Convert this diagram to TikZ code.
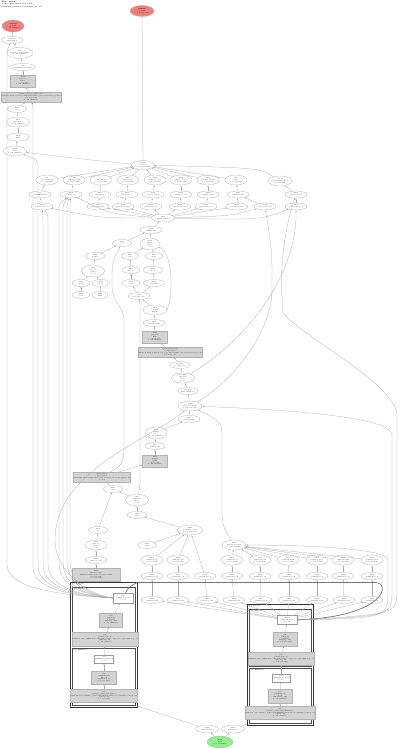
\documentclass[tikz,border=0pt]{standalone}
\usepackage{tikz}
\usetikzlibrary{arrows.meta,shapes.geometric}
\definecolor{hot}{HTML}{F08080}
\definecolor{leaf}{HTML}{90EE90}
\definecolor{frame}{HTML}{D3D3D3}
\newcommand{\nodefont}{\fontsize{1.5}{1.8}\selectfont}

\begin{document}
\begin{tikzpicture}[x=1pt,y=-1pt,>=Latex,
    fn/.style={ellipse,draw=black!35,line width=0.25pt,inner sep=0pt,
               minimum width=22,minimum height=7,font=\nodefont,align=center},
    fnt/.style={fn,minimum height=10},
    blk/.style={rectangle,draw=black!30,fill=frame,line width=0.25pt,inner sep=0.4pt,
                minimum width=25,minimum height=12,font=\nodefont,align=center},
    wide/.style={blk,minimum width=54,minimum height=10},
    plain/.style={rectangle,draw=black!40,fill=white,line width=0.25pt,inner sep=0.4pt,
                  minimum width=20,minimum height=8,font=\nodefont,align=center},
    root/.style={fn,fill=hot,minimum width=24,minimum height=12},
    done/.style={fn,fill=leaf,minimum width=26,minimum height=12},
    call/.style={draw=black!35,line width=0.25pt,-{Latex[length=1.6pt,width=1.3pt]}},
    heavy/.style={call,draw=black!55,line width=0.7pt},
    grp/.style={draw=black!80,line width=0.8pt},
    sub/.style={draw=black!70,line width=0.5pt},
    grplabel/.style={anchor=north west,font=\nodefont,inner sep=0.3pt,align=left}]
\useasboundingbox (0,0) rectangle (400,749);

\node[anchor=north west,align=left,inner sep=0pt,font=\fontsize{2}{2.4}\selectfont] (head) at (1.5,1)
    {\textbf{File: relay}\\Type: goroutine (34 total)\\Showing nodes accounting for 34};

% goroutines on top
\node[root,minimum width=22] (r1) at (13,26) {\textbf{runtime}\\gopark\\0 of 9 (26.47\%)};
\node[root,minimum height=11] (r2) at (142,11) {\textbf{runtime}\\gopark\\0 of 25 (73.53\%)};

% left chain
\node[fn] (a1) at (12,40) {runtime\\semacquire1};
\node[fnt,minimum width=23,minimum height=11] (a2) at (20,53) {sync\\runtime\_Semacquire\\0 of 9 (26.47\%)};
\node[fn,minimum width=23] (a3) at (23,67) {sync\\(*WaitGroup) Wait};
\node[blk] (a4) at (23,81) {main\\(*Pool)\\Close\\pool.go:88\\0 of 9 (26.47\%)};
\node[wide] (a5) at (31,97) {main (*Server) Shutdown\\0x4a3f2e main.(*Server).Shutdown+0x8e /src/relay/server.go:142\\server.go:142\\0 of 9 (26.47\%)};
\node[fn,minimum width=19] (a6) at (17,109) {main\\run};
\node[fnt,minimum width=23] (a7) at (18,122) {main\\main.func1\\0 of 9 (26.47\%)};
\node[fn,minimum height=8] (a8) at (18,137) {main\\main};
\node[fnt,minimum width=23] (a9) at (15,151) {runtime\\main\\0 of 9 (26.47\%)};

\node[fnt,minimum width=23,minimum height=9] (c) at (143,165) {runtime\\selectgo\\0 of 25 (73.53\%)};

% first row
\node[fnt] (b1) at (47,180) {net\\(*conn) Read\\0 of 3 (8.82\%)};
\node[fnt] (b2) at (74,180) {bufio\\(*Reader) fill\\0 of 3 (8.82\%)};
\node[fnt] (b3) at (101,180) {io\\ReadFull\\0 of 2 (5.88\%)};
\node[fnt] (b4) at (128,180) {main\\(*Peer) recv\\0 of 2 (5.88\%)};
\node[fnt] (b5) at (155,180) {main\\(*Peer) send\\0 of 2 (5.88\%)};
\node[fnt] (b6) at (181,180) {main\\(*Queue) pop\\0 of 2 (5.88\%)};
\node[fnt] (b7) at (208,180) {main\\(*Queue) push\\0 of 2 (5.88\%)};
\node[fnt] (b8) at (236,180) {time\\Sleep\\0 of 1 (2.94\%)};
\node[fnt] (b9) at (280,181) {context\\(*cancelCtx) Done\\0 of 1 (2.94\%)};

% second row
\node[fn] (d1) at (40,194.5) {net\\(*netFD) Read};
\node[fn] (d2) at (71,194.5) {main\\readLoop};
\node[fn] (d3) at (100,194.5) {main\\writeLoop};
\node[fn] (d4) at (127,194.5) {main\\(*Peer) loop};
\node[fn] (d5) at (153,194.5) {main\\(*Peer) ping};
\node[fn] (d6) at (181,194.5) {main\\(*Queue) run};
\node[fn] (d7) at (208,194.5) {main\\(*Queue) wait};
\node[fn] (d8) at (238,194.5) {main\\(*Timer) run};
\node[fn] (d9) at (296,194.5) {main\\(*Ctx) watch};

% third row
\node[fn] (e1) at (42,206.5) {main\\(*Session) read};
\node[fn] (e2) at (98,206.5) {main\\(*Session) write};
\node[fn] (e3) at (123,206.5) {main\\(*Session) ping};
\node[fn] (e4) at (151,206.5) {main\\(*Session) recv};
\node[fn] (e5) at (180,206.5) {main\\(*Session) send};
\node[fn] (e6) at (206,206.5) {main\\(*Session) poll};
\node[fn] (e7) at (237,206.5) {main\\(*Session) tick};
\node[fn] (e8) at (265,206.5) {main\\(*Session) idle};
\node[fn] (e9) at (296,206.5) {main\\(*Session) close};

\node[fn,minimum width=23,minimum height=8] (hub) at (163,218) {main\\(*Hub) dispatch};
\node[fn] (hrun) at (151,230) {main\\(*Hub) run};
\node[fn,minimum width=19] (f1) at (122,243) {main\\loop};
\node[fnt,minimum width=20,minimum height=12] (f2) at (150,244) {main\\(*Hub)\\Start\\0 of 6};

% worker subtree
\node[fn,minimum width=20] (g1) at (95,256) {main\\worker};
\node[fnt,minimum width=23,minimum height=12] (g2) at (93,271) {main\\(*Pool)\\spawn\\0 of 4};
\node[fn,minimum width=18] (g3) at (81,283) {main\\fetch};
\node[fn,minimum width=18] (g4) at (101,283) {main\\store};
\node[fn,minimum width=18] (g5) at (81,295) {main\\retry};
\node[fn,minimum width=16] (g6) at (100,295) {main\\flush};

% conn subtree
\node[fn,minimum width=17] (h1) at (130,256) {main\\read};
\node[fn,minimum width=18] (h2) at (154,256) {main\\write};
\node[fn,minimum width=18] (h3) at (131,270) {main\\decode};
\node[fn,minimum width=20] (h4) at (153,270) {main\\encode};
\node[fn,minimum width=18] (h5) at (131,283) {main\\parse};
\node[fn,minimum width=21] (h6) at (154,283) {main\\marshal};
\node[fn] (h7) at (139,296) {main\\(*Conn) serve};

% middle chain
\node[fnt,minimum width=24] (i1) at (155,310) {main\\(*Conn)\\handle};
\node[fn] (i2) at (154,323) {main\\(*Conn) wait};
\node[blk] (i3) at (155,337) {main\\(*Conn)\\Run\\conn.go:61\\0 of 6 (17.65\%)};
\node[wide] (i4) at (170,352) {main (*Listener)\\accept.func2\\0x4a51c0 main.(*Listener).accept.func2+0x60 /src/relay/listener.go:97\\listener.go:97};
\node[fn,minimum width=20] (i5) at (180,365) {net/http\\(*conn) serve};
\node[fnt,minimum width=23] (i6) at (183,378) {net/http\\(*Server)\\Serve\\0 of 5};
\node[fn,minimum width=19] (i7) at (188,391) {net/http\\ListenAndServe};
\node[fnt,minimum width=24] (i8) at (190,406) {main\\(*Server) Start\\0 of 25 (73.53\%)};
\node[fn] (i9) at (189,419) {main\\(*App) Run};
\node[fnt,minimum height=12] (i10) at (156,433) {main\\(*App)\\boot\\0 of 4 (11.76\%)};
\node[fn,minimum width=20] (i11) at (155,446) {main\\(*App) init};
\node[blk] (i12) at (155,461) {main\\(*App)\\Start\\app.go:74\\0 of 4 (11.76\%)};
\node[wide,minimum width=53] (i13) at (102,477) {main (*App)\\Start.func1\\0x4a2b9d main.(*App).Start.func1+0x3d /src/relay/app.go:80\\0 of 4};
\node[fn,minimum width=20] (i14) at (113,489) {main\\tick};
\node[fnt,minimum width=23,minimum height=12] (i15) at (137,500) {time\\(*Ticker)\\Reset\\0 of 2};
\node[fn,minimum width=20] (i16) at (137,515) {time\\Sleep};

% lower left chain
\node[fn,minimum width=19] (j1) at (98,530) {main\\gc};
\node[fnt] (j2) at (96,545) {main\\(*Store)\\compact\\0 of 2};
\node[fn] (j3) at (96,560) {main\\(*Store) sync};
\node[wide,minimum width=48,minimum height=13] (j4) at (96,575) {main\\(*Store) Sync\\0x4a6e10 main.(*Store).Sync+0x90\\store.go:203\\0 of 2 (5.88\%)};

\node[fnt,minimum width=25] (hub2) at (190,530) {main\\(*Cache) evict\\0 of 8 (23.53\%)};
\node[fn,minimum width=19] (k1) at (147,545) {main\\drain};
\node[fnt,minimum width=24] (hub3) at (234,545) {main\\(*Router) route\\0 of 16 (47.06\%)};

% shard rows
\node[fnt] (m1) at (152,560) {main\\(*Shard) get\\0 of 2 (5.88\%)};
\node[fnt] (m2) at (178,560) {main\\(*Shard) put\\0 of 2 (5.88\%)};
\node[fnt] (m3) at (232,560) {main\\(*Shard) del\\0 of 2 (5.88\%)};
\node[fnt] (m4) at (260,560) {main\\(*Shard) scan\\0 of 2 (5.88\%)};
\node[fnt] (m5) at (288,560) {main\\(*Shard) hash\\0 of 2 (5.88\%)};
\node[fnt] (m6) at (317,560) {main\\(*Shard) grow\\0 of 2 (5.88\%)};
\node[fnt] (m7) at (343,560) {main\\(*Shard) trim\\0 of 2 (5.88\%)};
\node[fnt] (m8) at (372,560) {main\\(*Shard) stat\\0 of 2 (5.88\%)};

\node[fn] (n1) at (152,576) {main\\(*Shard) lock};
\node[fn] (n2) at (178,576) {main\\(*Shard) lock};
\node[fn] (n3) at (205,576) {main\\(*Cache) lock};
\node[fn] (n4) at (232,576) {main\\(*Shard) lock};
\node[fn] (n5) at (260,576) {main\\(*Shard) lock};
\node[fn] (n6) at (289,576) {main\\(*Shard) lock};
\node[fn] (n7) at (317,576) {main\\(*Shard) lock};
\node[fn] (n8) at (343,576) {main\\(*Shard) lock};
\node[fn] (n9) at (372,576) {main\\(*Shard) lock};

\node[fn] (p1) at (152,600) {main\\(*Shard) wait};
\node[fn] (p2) at (178,600) {main\\(*Shard) wait};
\node[fn] (p3) at (207,600) {main\\(*Cache) wait};
\node[fn] (p4) at (234,600) {main\\(*Shard) wait};
\node[fn] (p5) at (261,600) {main\\(*Shard) wait};
\node[fn] (p6) at (289,600) {main\\(*Shard) wait};
\node[fn] (p7) at (317,600) {main\\(*Shard) wait};
\node[fn] (p8) at (344,600) {main\\(*Shard) wait};
\node[fn] (p9) at (372,600) {main\\(*Shard) wait};

% left cluster
\draw[grp] (70,582) rectangle (137,707);
\draw[sub] (72,587) rectangle (135,646.5);
\draw[sub] (72,648) rectangle (135,705);
\node[grplabel] (lg0) at (71.5,582.8) {goroutine 18};
\node[grplabel] (lg1) at (73,587.8) {sync.Mutex};
\node[grplabel] (lg2) at (73,648.8) {sync.RWMutex};
\node[plain,minimum height=10] (l1) at (123,598) {main\\(*Mutex) Lock\\0 of 9};
\node[blk,minimum width=23,minimum height=14] (l2) at (111,620) {sync\\(*Mutex)\\lockSlow\\mutex.go:138\\0 of 9 (26.47\%)};
\node[wide,minimum width=57,minimum height=14] (l3) at (105,639) {sync\\(*Mutex) Lock\\0x46b5a5 sync.(*Mutex).Lock+0x45 /usr/local/go/src/sync/mutex.go:81\\mutex.go:81\\0 of 9 (26.47\%)};
\node[plain,minimum width=19] (l4) at (104,659) {sync\\(*RWMutex) RLock\\0 of 3};
\node[blk,minimum height=13] (l5) at (104,678) {sync\\(*RWMutex)\\RLock\\rwmutex.go:71\\0 of 3 (8.82\%)};
\node[wide,minimum width=56,minimum height=13] (l6) at (104,696) {sync\\runtime\_SemacquireMutex\\0x44c9f1 sync.runtime\_SemacquireMutex+0x31 /src/runtime/sema.go:77\\sema.go:77\\0 of 3 (8.82\%)};

% right cluster
\draw[grp] (247,604) rectangle (313,725);
\draw[sub] (249,609) rectangle (311,666.5);
\draw[sub] (249,668) rectangle (311,723);
\node[grplabel] (rg0) at (248.5,604.8) {goroutine 31};
\node[grplabel] (rg1) at (250,609.8) {sync.Mutex};
\node[grplabel] (rg2) at (250,668.8) {sync.RWMutex};
\node[plain,minimum height=9] (q0) at (287,620) {main\\(*Shard) Lock\\0 of 16};
\node[blk,minimum width=24,minimum height=14] (s2) at (285,639) {sync\\(*Mutex)\\lockSlow\\mutex.go:138\\0 of 16 (47.06\%)};
\node[wide,minimum width=56,minimum height=13] (s3) at (281,659) {sync\\(*Mutex) Lock\\0x46b5a5 sync.(*Mutex).Lock+0x45 /usr/local/go/src/sync/mutex.go:81\\mutex.go:81\\0 of 16 (47.06\%)};
\node[plain,minimum width=18] (s4) at (281,678) {sync\\(*RWMutex) Lock\\0 of 6};
\node[blk,minimum width=24,minimum height=14] (s5) at (280,696) {sync\\(*RWMutex)\\Lock\\rwmutex.go:144\\0 of 6 (17.65\%)};
\node[wide,minimum width=56,minimum height=13] (s6) at (280,713) {sync\\runtime\_SemacquireRWMutex\\0x44ca31 sync.runtime\_SemacquireRWMutex+0x31 /src/runtime/sema.go:87\\sema.go:87\\0 of 6 (17.65\%)};

% bottom
\node[fn,minimum width=23,minimum height=8] (t1) at (207,729) {main\\main.func2};
\node[fn,minimum width=23,minimum height=8] (t2) at (233,729) {main\\main.func3};
\node[done] (top) at (220,742) {\textbf{main}\\main\\0 of 34 (100\%)};
\coordinate (lcorner) at (137,706);
\coordinate (rcorner) at (247,724);

% left chain edges
\draw[call] (a1) -- (r1);
\draw[call] (a2) -- (a1);
\draw[call] (a3) -- (a2);
\draw[call] (a4) -- (a3);
\draw[call] (a5) -- (a4);
\draw[call] (a6) -- (a5);
\draw[call] (a7) -- (a6);
\draw[call] (a8) -- (a7);
\draw[call] (a9) -- (a8);
\draw[call] (c) -- (r2);
\draw[call] (c) .. controls (90,160) .. (a9);

% rows
\draw[call] (b1) -- (c);
\draw[call] (b2) -- (c);
\draw[call] (b3) -- (c);
\draw[call] (b4) -- (c);
\draw[call] (b5) -- (c);
\draw[call] (b6) -- (c);
\draw[call] (b7) -- (c);
\draw[call] (b8) -- (c);
\draw[call] (b9) .. controls (260,168) .. (c);
\draw[call] (d1) -- (b1);
\draw[call] (d2) -- (b2);
\draw[call] (d3) -- (b3);
\draw[call] (d4) -- (b4);
\draw[call] (d5) -- (b5);
\draw[call] (d6) -- (b6);
\draw[call] (d7) -- (b7);
\draw[call] (d8) -- (b8);
\draw[call] (d9) -- (b9);
\draw[call] (e1) -- (d1);
\draw[call] (e2) -- (d3);
\draw[call] (e3) -- (d4);
\draw[call] (e4) -- (d5);
\draw[call] (e5) -- (d6);
\draw[call] (e6) -- (d7);
\draw[call] (e7) -- (d8);
\draw[call] (e8) -- (d8);
\draw[call] (e9) -- (d9);
\draw[call] (hub) .. controls (100,218) .. (e1);
\draw[call] (hub) .. controls (110,214) .. (d2);
\draw[call] (hub) -- (e2);
\draw[call] (hub) -- (e3);
\draw[call] (hub) -- (e4);
\draw[call] (hub) -- (e5);
\draw[call] (hub) -- (e6);
\draw[call] (hub) -- (e7);
\draw[call] (hub) .. controls (230,216) .. (e8);
\draw[call] (hub) .. controls (260,220) .. (e9);

% middle
\draw[call] (hrun) -- (hub);
\draw[call] (f1) -- (hrun);
\draw[call] (f2) -- (hrun);
\draw[call] (g1) -- (f1);
\draw[call] (g2) -- (g1);
\draw[call] (g3) -- (g2);
\draw[call] (g4) -- (g2);
\draw[call] (g5) -- (g3);
\draw[call] (g6) -- (g4);
\draw[call] (h1) -- (f2);
\draw[call] (h2) -- (f2);
\draw[call] (h3) -- (h1);
\draw[call] (h4) -- (h2);
\draw[call] (h5) -- (h3);
\draw[call] (h6) -- (h4);
\draw[call] (h7) -- (h5);
\draw[call] (h7) -- (h6);
\draw[call] (i1) -- (h7);
\draw[call] (i1.east) .. controls (174,292) and (172,252) .. (f2);
\draw[call] (i2) -- (i1);
\draw[call] (i3) -- (i2);
\draw[call] (i4) -- (i3);
\draw[call] (i5) -- (i4);
\draw[call] (i6) -- (i5);
\draw[call] (i7) -- (i6);
\draw[call] (i8) -- (i7);
\draw[call] (i9) -- (i8);
\draw[call] (i10) -- (i9);
\draw[call] (i11) -- (i10);
\draw[call] (i12) -- (i11);
\draw[call] (i13) -- (i12);
\draw[call] (i14) -- (i13);
\draw[call] (i15) -- (i14);
\draw[call] (i16) -- (i15);
\draw[call] (i15) .. controls (140,488) .. (140,470) -- (140,312) .. controls (140,305) .. (h7);
\draw[call] (i13) .. controls (122,465) .. (124,450) -- (124,320) .. controls (124,305) and (112,305) .. (112,285) .. controls (112,262) .. (f1);
\draw[call] (hub2) -- (i16);
\draw[call] (k1) -- (hub2);
\draw[call] (j1) -- (i14);
\draw[call] (j2) -- (j1);
\draw[call] (j3) -- (j2);
\draw[call] (j4) -- (j3);
\draw[call] (i8) .. controls (235,380) and (272,330) .. (272,290) .. controls (272,250) .. (e8);
\draw[call] (i6) .. controls (240,345) and (297,280) .. (e9);

% shard rows
\draw[call] (m1) -- (hub2);
\draw[call] (m2) -- (hub2);
\draw[call] (n3) -- (hub2);
\draw[call] (m3) -- (hub3);
\draw[call] (m4) -- (hub3);
\draw[call] (m5) -- (hub3);
\draw[call] (m6) -- (hub3);
\draw[call] (m7) -- (hub3);
\draw[call] (m8) -- (hub3);
\draw[call] (n1) -- (m1);
\draw[call] (n2) -- (m2);
\draw[call] (n4) -- (m3);
\draw[call] (n5) -- (m4);
\draw[call] (n6) -- (m5);
\draw[call] (n7) -- (m6);
\draw[call] (n8) -- (m7);
\draw[call] (n9) -- (m8);
\draw[call] (p1) -- (n1);
\draw[call] (p2) -- (n2);
\draw[call] (p3) -- (n3);
\draw[call] (p4) -- (n4);
\draw[call] (p5) -- (n5);
\draw[call] (p6) -- (n6);
\draw[call] (p7) -- (n7);
\draw[call] (p8) -- (n8);
\draw[call] (p9) -- (n9);
\draw[call] (hub3) .. controls (222,525) .. (222,505) -- (222,440) .. controls (222,422) .. (i8);

% long lanes from the left cluster
\draw[call] (l1.west) .. controls (80,596) and (7,592) .. (7,565) -- (7,60) .. controls (7,50) .. (a1);
\draw[call] (l1.west) .. controls (82,596) and (33,592) .. (33,567) -- (33,115) .. controls (33,108) .. (a5);
\draw[call] (l1.west) .. controls (84,596) and (38,591) .. (38,566) -- (38,168) .. controls (38,160) .. (a9);
\draw[call] (l1.west) .. controls (86,596) and (43,590) .. (43,565) -- (43,222) .. controls (43,215) .. (e1);
\draw[call] (l1.west) .. controls (88,596) and (48,590) .. (48,564) -- (48,222) .. controls (48,215) .. (e1);
\draw[call] (l1.west) .. controls (90,596) and (59,589) .. (59,563) -- (59,212) .. controls (59,204) .. (d2);
\draw[call] (l1.west) .. controls (92,596) and (63,589) .. (63,562) -- (63,212) .. controls (63,204) .. (d2);
\draw[call] (l1.west) .. controls (94,596) and (67,588) .. (67,561) -- (67,212) .. controls (67,204) .. (d2);
\draw[call] (l1.west) .. controls (96,596) and (70,588) .. (70,560) -- (70,212) .. controls (70,204) .. (d2);
\draw[call] (l1.west) .. controls (85,594) and (55,570) .. (55,540) .. controls (55,470) and (150,440) .. (i8);
\draw[heavy] (l1) .. controls (128,588) .. (137,582.5) -- (375,582.5) .. controls (392,582.5) and (385,617) .. (q0);

% right lanes
\draw[call] (q0) -- (p1);
\draw[call] (q0) -- (p2);
\draw[call] (q0) -- (p3);
\draw[call] (q0) -- (p4);
\draw[call] (q0) -- (p5);
\draw[call] (q0) -- (p6);
\draw[call] (q0) -- (p7);
\draw[call] (q0) -- (p8);
\draw[call] (q0) -- (p9);
\draw[call] (q0.east) .. controls (388,618) .. (388,590) -- (388,560) .. controls (388,548) and (300,545) .. (hub3);
\draw[call] (q0.east) .. controls (392,616) .. (392,590) -- (392,435) .. controls (392,418) and (300,410) .. (i8);
\draw[call] (q0.east) .. controls (397,614) .. (397,590) -- (397,415) .. controls (397,385) and (300,335) .. (283,313) .. controls (280,280) and (281,240) .. (d9);

% cluster internals
\draw[call] (l2) -- (l1);
\draw[call] (l3) -- (l2);
\draw[call] (l4) -- (l3);
\draw[call] (l5) -- (l4);
\draw[call] (l6) -- (l5);
\draw[call] (s2) -- (q0);
\draw[call] (s3) -- (s2);
\draw[call] (s4) -- (s3);
\draw[call] (s5) -- (s4);
\draw[call] (s6) -- (s5);

% bottom
\draw[call] (top) -- (t1);
\draw[call] (top) -- (t2);
\draw[call] (t1) -- (lcorner);
\draw[call] (t2) -- (rcorner);
\end{tikzpicture}
\end{document}
